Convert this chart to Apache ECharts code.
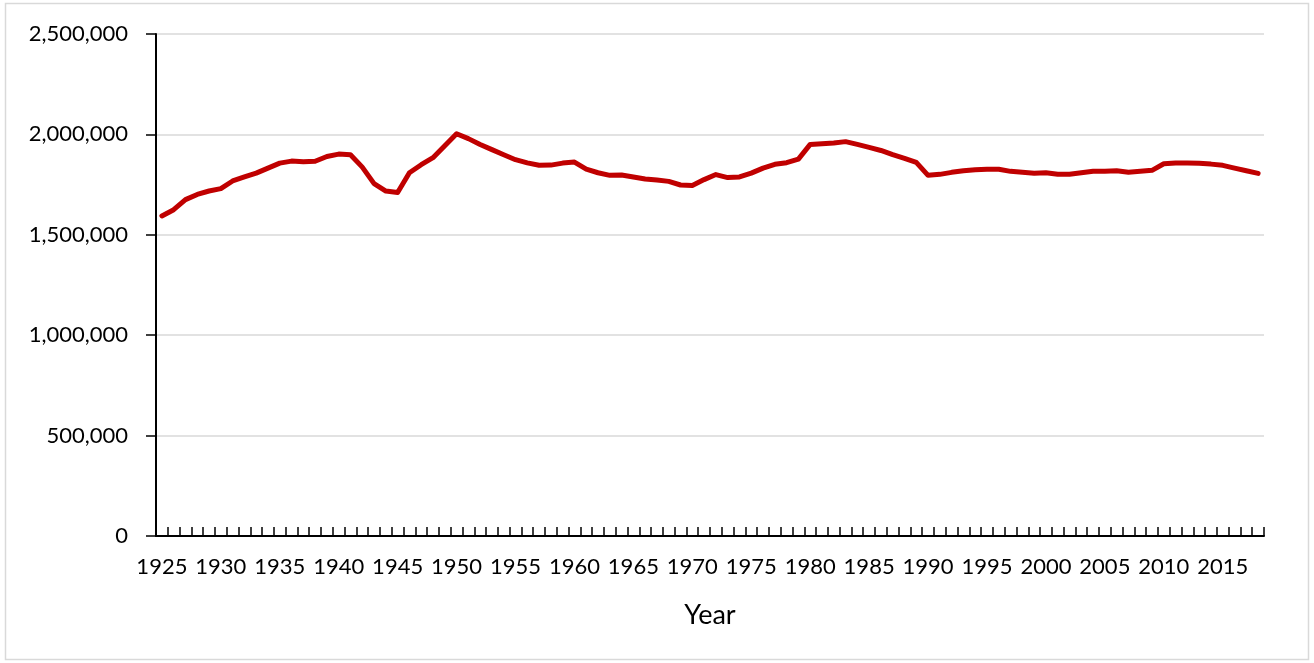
<!DOCTYPE html>
<html>
<head>
<meta charset="utf-8">
<script src="https://cdn.jsdelivr.net/npm/echarts@6/dist/echarts.min.js"></script>
<style>
html,body{margin:0;padding:0;background:#fff;}
#chart{width:1314px;height:663px;}
</style>
</head>
<body>
<div id="chart"></div>
<script>
const years = [];
for (let y = 1925; y <= 2018; y++) years.push(String(y));

const values = [
  1594000, 1625000, 1675000, 1701000, 1718000, 1730000, 1768000, 1788000, 1807000, 1832000,
  1857000, 1867000, 1864000, 1866000, 1890000, 1902000, 1899000, 1837000, 1755000, 1718000,
  1711000, 1809000, 1849000, 1884000, 1944000, 2003000, 1979000, 1950000, 1924000, 1899000,
  1874000, 1858000, 1846000, 1847000, 1857000, 1862000, 1827000, 1809000, 1796000, 1798000,
  1788000, 1778000, 1773000, 1766000, 1748000, 1746000, 1775000, 1800000, 1785000, 1788000,
  1807000, 1832000, 1851000, 1859000, 1877000, 1950000, 1954000, 1957000, 1964000, 1950000,
  1935000, 1920000, 1899000, 1881000, 1861000, 1796000, 1801000, 1811000, 1819000, 1824000,
  1827000, 1826000, 1816000, 1811000, 1807000, 1809000, 1802000, 1802000, 1809000, 1816000,
  1817000, 1819000, 1812000, 1816000, 1821000, 1854000, 1857000, 1857000, 1856000, 1852000,
  1846000, 1832000, 1819000, 1806000
];

const yTicks = [0, 500000, 1000000, 1500000, 2000000, 2500000];
const xTitle = 'Year';

const font = 'Lato, "Open Sans", sans-serif';
const chart = echarts.init(document.getElementById('chart'), null, {renderer: 'canvas'});
chart.setOption({
  animation: false,
  backgroundColor: '#fff',
  graphic: [{
    type: 'rect',
    shape: {x: 5.5, y: 3.5, width: 1303, height: 656},
    style: {fill: 'none', stroke: '#d9d9d9', lineWidth: 1.5},
    silent: true,
    z: -10
  }],
  grid: {left: 156, right: 50, top: 34, bottom: 127, containLabel: false},
  xAxis: {
    type: 'category',
    data: years,
    boundaryGap: true,
    name: xTitle,
    nameLocation: 'middle',
    nameGap: 66,
    nameTextStyle: {fontFamily: font, fontSize: 27, color: '#000'},
    axisLine: {show: true, lineStyle: {color: '#000', width: 2}},
    axisTick: {show: true, inside: true, length: 9, interval: 0, lineStyle: {color: '#000', width: 1.5}},
    axisLabel: {interval: 4, margin: 20, fontFamily: font, fontSize: 22, color: '#000'},
    splitLine: {show: false}
  },
  yAxis: {
    type: 'value',
    min: yTicks[0],
    max: yTicks[yTicks.length - 1],
    interval: yTicks[1] - yTicks[0],
    axisLine: {show: true, lineStyle: {color: '#000', width: 2}},
    axisTick: {show: true, inside: false, length: 10, lineStyle: {color: '#000', width: 1.5}},
    axisLabel: {
      margin: 28, fontFamily: font, fontSize: 22, color: '#000',
      formatter: v => v.toLocaleString('en-US')
    },
    splitLine: {show: true, lineStyle: {color: '#d9d9d9', width: 1.5}}
  },
  series: [{
    type: 'line',
    data: values,
    symbol: 'none',
    smooth: false,
    lineStyle: {color: '#c00000', width: 5, cap: 'round', join: 'round'}
  }]
});
</script>
</body>
</html>
